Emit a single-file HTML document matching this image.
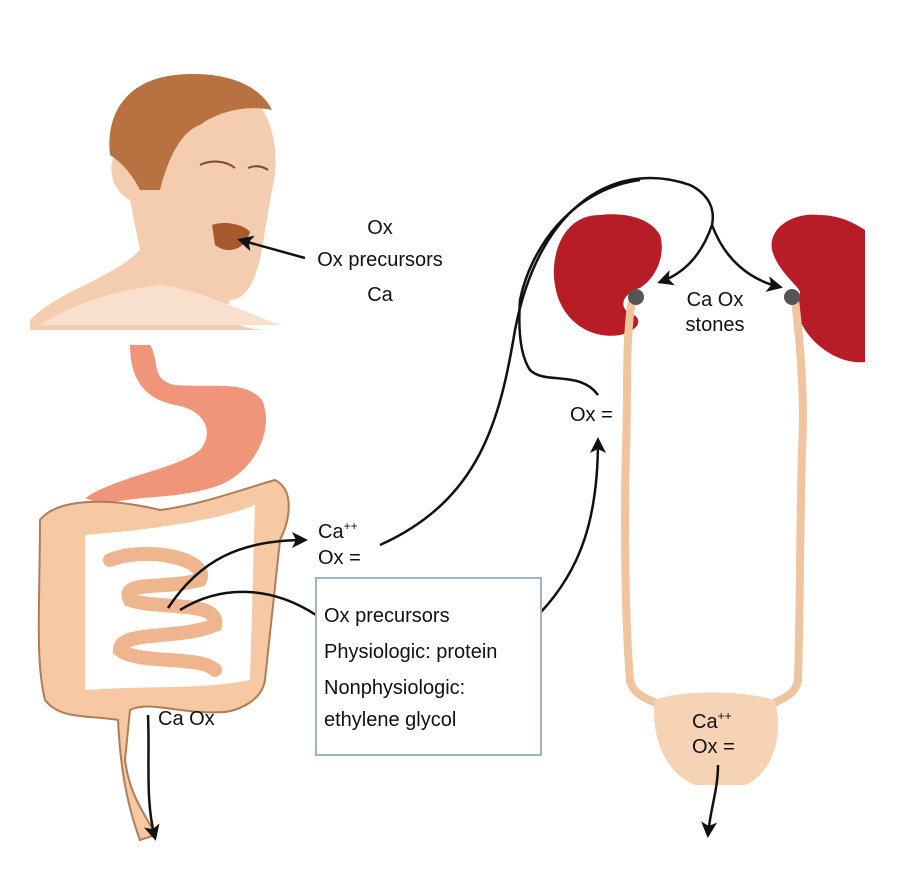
<!DOCTYPE html>
<html><head><meta charset="utf-8"><style>
html,body{margin:0;padding:0;background:#fff}
svg{display:block}
text{font-family:"Liberation Sans",sans-serif;fill:#111}
</style></head><body>
<svg width="900" height="894" viewBox="0 0 900 894" xmlns="http://www.w3.org/2000/svg">
<defs>
<marker id="ah2" markerWidth="16" markerHeight="16" refX="13" refY="8" orient="auto" markerUnits="userSpaceOnUse" viewBox="0 0 16 16">
<path d="M0,0 L16,8 L0,16 L4,8 Z" fill="#111"/></marker>
</defs>
<!-- head -->
<path d="M30,320 C60,290 110,280 140,250 L130,200 C110,190 105,160 120,150 L125,110 C140,80 210,70 250,95 C275,115 280,160 272,190 L265,230 C260,270 250,300 230,300 C220,320 240,330 270,330 L30,330 Z" fill="#f4cdb0"/>
<path d="M40,325 C80,300 120,290 160,285 C200,290 240,310 280,325 Z" fill="#f9e0cc"/>
<path d="M110,155 C105,110 130,80 175,75 C225,70 260,85 272,110 C250,105 220,110 200,125 C185,130 170,150 160,190 L140,190 C130,170 118,160 110,155 Z" fill="#b87141"/>
<path d="M212,225 C225,220 245,225 250,232 C245,250 228,255 215,245 Z" fill="#a5592c"/>
<path d="M200,165 C210,160 225,160 235,168 M248,168 C255,165 262,166 268,170" stroke="#7a4a2b" stroke-width="2" fill="none"/>
<!-- stomach -->
<path d="M150,345 C160,360 150,380 175,385 C215,388 245,380 262,400 C275,430 255,470 220,485 C180,500 130,495 105,505 L85,498 C120,475 175,470 200,450 C215,432 205,410 175,405 C150,400 130,385 130,345 Z" fill="#f0957a"/>
<!-- colon -->
<path d="M40,520 C60,495 120,500 160,510 C200,505 240,490 275,480 C295,490 290,520 280,540 L265,680 C262,700 240,710 225,712 C180,715 150,700 130,710 L125,760 C130,800 150,820 155,835 L140,840 C125,800 120,760 118,720 C90,715 60,720 45,700 C35,660 40,600 40,520 Z" fill="#f6c9a4" stroke="#b07d55" stroke-width="2"/>
<path d="M85,535 C150,530 220,520 255,505 L250,680 C200,690 160,685 85,690 Z" fill="#fff"/>
<path d="M110,560 C150,545 210,560 200,580 C160,590 120,580 130,600 C160,610 220,600 215,625 C180,640 120,630 120,650 C140,665 200,655 215,670" stroke="#efb58f" stroke-width="14" fill="none" stroke-linecap="round"/>
<!-- kidneys -->
<path d="M600,215 C560,215 550,260 555,285 C560,320 590,340 620,335 C640,330 645,318 628,312 C618,305 625,292 640,288 C660,275 665,250 660,235 C650,218 625,212 600,215 Z" fill="#b81d27"/>
<path d="M820,215 C790,212 768,230 772,250 C778,272 798,285 800,292 C800,300 790,310 800,320 C810,345 840,365 865,362 L865,230 C850,220 835,215 820,215 Z" fill="#b81d27"/>
<!-- ureters -->
<path d="M632,300 C625,340 628,400 626,450 C624,520 625,620 630,680 C632,695 650,700 660,705" stroke="#f0c49e" stroke-width="8" fill="none"/>
<path d="M795,300 C800,340 805,400 802,450 C800,520 800,620 798,680 C796,695 780,700 770,705" stroke="#f0c49e" stroke-width="8" fill="none"/>
<path d="M655,700 C680,690 740,690 775,700 C785,740 770,775 745,785 L695,785 C668,775 650,740 655,700 Z" fill="#f6d3b5"/>
<circle cx="636" cy="297" r="8" fill="#555"/><circle cx="792" cy="297" r="8" fill="#555"/>
<!-- connectors -->
<path d="M305,258 L240,240" stroke="#111" stroke-width="2.5" fill="none" marker-end="url(#ah2)"/>
<path d="M380,545 C480,500 500,420 515,330 C540,200 620,160 690,185 C710,195 715,210 712,225" stroke="#111" stroke-width="2.5" fill="none"/>
<path d="M712,225 C700,260 680,275 660,282" stroke="#111" stroke-width="2.5" fill="none" marker-end="url(#ah2)"/>
<path d="M712,225 C725,260 750,280 780,287" stroke="#111" stroke-width="2.5" fill="none" marker-end="url(#ah2)"/>
<path d="M598,395 C580,370 545,385 530,370 C520,355 518,330 520,300 C530,250 570,190 640,180" stroke="#111" stroke-width="2.5" fill="none"/>
<path d="M541,612 C580,570 598,520 598,440" stroke="#111" stroke-width="2.5" fill="none" marker-end="url(#ah2)"/>
<path d="M168,608 C200,560 240,540 305,540" stroke="#111" stroke-width="2.5" fill="none" marker-end="url(#ah2)"/>
<path d="M180,610 C220,585 270,585 316,615" stroke="#111" stroke-width="2.5" fill="none"/>
<path d="M148,715 C150,760 145,800 155,838" stroke="#111" stroke-width="2.5" fill="none" marker-end="url(#ah2)"/>
<path d="M718,765 C718,790 710,810 708,835" stroke="#111" stroke-width="2.5" fill="none" marker-end="url(#ah2)"/>
<!-- box -->
<rect x="316" y="578" width="225" height="177" fill="#fff" stroke="#9fb4c0" stroke-width="2"/>
<!-- text -->
<g font-size="20">
<text x="380" y="234" text-anchor="middle">Ox</text>
<text x="380" y="266" text-anchor="middle">Ox precursors</text>
<text x="380" y="301" text-anchor="middle">Ca</text>
<text x="318" y="538">Ca<tspan font-size="12" dy="-8">++</tspan></text>
<text x="318" y="564">Ox =</text>
<text x="324" y="622">Ox precursors</text>
<text x="324" y="658">Physiologic: protein</text>
<text x="324" y="694">Nonphysiologic:</text>
<text x="324" y="726">ethylene glycol</text>
<text x="158" y="725">Ca Ox</text>
<text x="715" y="306" text-anchor="middle">Ca Ox</text>
<text x="715" y="331" text-anchor="middle">stones</text>
<text x="570" y="421">Ox =</text>
<text x="692" y="728">Ca<tspan font-size="12" dy="-8">++</tspan></text>
<text x="692" y="753">Ox =</text>
</g>
</svg>
</body></html>
